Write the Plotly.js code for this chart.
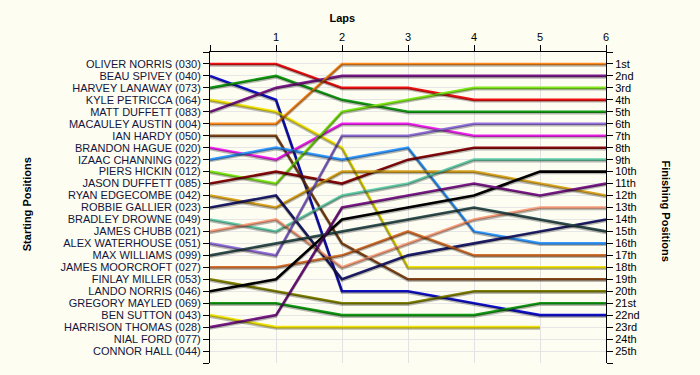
<!DOCTYPE html>
<html>
<head>
<meta charset="utf-8">
<script src="https://cdn.plot.ly/plotly-3.0.1.min.js"></script>
<style>
  html, body { margin: 0; padding: 0; background: #fdfdf2; }
  #chart { width: 700px; height: 375px; }
</style>
</head>
<body>
<div id="chart"></div>
<script>
// Starting grid labels (left axis), positions 1..25
const drivers = [
  "OLIVER NORRIS (030)", "BEAU SPIVEY (040)", "HARVEY LANAWAY (073)", "KYLE PETRICCA (064)",
  "MATT DUFFETT (083)", "MACAULEY AUSTIN (004)", "IAN HARDY (050)", "BRANDON HAGUE (020)",
  "IZAAC CHANNING (022)", "PIERS HICKIN (012)", "JASON DUFFETT (085)", "RYAN EDGECOMBE (042)",
  "ROBBIE GALLIER (023)", "BRADLEY DROWNE (049)", "JAMES CHUBB (021)", "ALEX WATERHOUSE (051)",
  "MAX WILLIAMS (099)", "JAMES MOORCROFT (027)", "FINLAY MILLER (053)", "LANDO NORRIS (046)",
  "GREGORY MAYLED (069)", "BEN SUTTON (043)", "HARRISON THOMAS (028)", "NIAL FORD (077)",
  "CONNOR HALL (044)"
];
// Finishing position labels (right axis)
const finishLabels = [
  "1st","2nd","3rd","4th","5th","6th","7th","8th","9th","10th","11th","12th","13th",
  "14th","15th","16th","17th","18th","19th","20th","21st","22nd","23rd","24th","25th"
];
const laps = [0, 1, 2, 3, 4, 5, 6];
const lapLabels = ["", "1", "2", "3", "4", "5", "6"];

// Running position of each driver (index = starting position - 1) after each lap
const lap0 = [1, 2, 3, 4, 5, 6, 7, 8, 9, 10, 11, 12, 13, 14, 15, 16, 17, 18, 19, 20, 21, 22, 23];
const lap1 = [1, 4, 2, 5, 3, 6, 7, 9, 8, 11, 10, 13, 12, 15, 14, 17, 16, 18, 20, 19, 21, 23, 22];
const lap2 = [3, 20, 4, 8, 2, 1, 16, 6, 9, 5, 11, 10, 19, 12, 18, 7, 15, 17, 21, 14, 22, 23, 13];
const lap3 = [3, 20, 5, 18, 2, 1, 19, 6, 8, 4, 9, 10, 17, 11, 16, 7, 14, 15, 21, 13, 22, 23, 12];
const lap4 = [4, 21, 5, 18, 2, 1, 19, 7, 15, 3, 8, 10, 16, 9, 14, 6, 13, 17, 20, 12, 22, 23, 11];
const lap5 = [4, 22, 5, 18, 2, 1, 19, 7, 16, 3, 8, 11, 15, 9, 13, 6, 14, 17, 20, 10, 21, 23, 12];
const lap6 = [4, 22, 5, 18, 2, 1, 19, 7, 16, 3, 8, 12, 14, 9, 13, 6, 15, 17, 20, 10, 21, null, 11];

// Line colours (style), by starting position
const lineColors = [
  "#ee1111", "#1111cc", "#139a13", "#f2e40a", "#7a1a88", "#ff8a1c", "#86481a", "#f022ee",
  "#3399ff", "#80e81a", "#8b0a0a", "#daa520", "#1f1f6e", "#66cdaa", "#f9a07e", "#9370db",
  "#2f4f4f", "#d2702e", "#808000", "#000000", "#139a13", "#f2e40a", "#7a1a88"
];

const allLaps = [lap0, lap1, lap2, lap3, lap4, lap5, lap6];
const shadows = [];
const lines = [];
for (let i = 0; i < lap0.length; i++) {
  const ys = allLaps.map(l => l[i]);
  const xs = laps.filter((_, k) => ys[k] !== null);
  const yv = ys.filter(v => v !== null);
  shadows.push({
    x: xs, y: yv, type: "scatter", mode: "lines", xaxis: "x", yaxis: "y3",
    line: { color: "rgba(0,0,0,0.28)", width: 2.6 }, hoverinfo: "skip", showlegend: false
  });
  lines.push({
    x: xs, y: yv, type: "scatter", mode: "lines", name: drivers[i],
    line: { color: lineColors[i], width: 2.6 }, showlegend: false
  });
}
// empty carrier trace so the right-hand finishing-position axis is drawn
const rightAxisCarrier = {
  x: [], y: [], type: "scatter", mode: "lines", xaxis: "x", yaxis: "y2",
  hoverinfo: "skip", showlegend: false
};

const posTicks = [];
for (let p = 0; p <= 26; p++) posTicks.push(p);
const leftText = posTicks.map(p => (p >= 1 && p <= 25) ? drivers[p - 1] : "");
const rightText = posTicks.map(p => (p >= 1 && p <= 25) ? finishLabels[p - 1] : "");

const bg = "#fdfdf2";
const tickFont = { family: "Liberation Sans, Arial, sans-serif", size: 11, color: "#000000" };

const layout = {
  width: 700, height: 375,
  paper_bgcolor: bg, plot_bgcolor: bg,
  margin: { l: 210, r: 94, t: 52, b: 12, pad: 0 },
  showlegend: false,
  title: {
    text: "<b>Laps</b>", x: 0.489, xanchor: "center", y: 0.952, yanchor: "middle",
    font: { family: "Liberation Sans, Arial, sans-serif", size: 11, color: "#000" }
  },
  xaxis: {
    side: "top", range: [0, 6], tickvals: laps, ticktext: lapLabels,
    ticks: "outside", ticklen: 6, tickcolor: "#000", showline: true, linecolor: "#000", linewidth: 1,
    showgrid: true, gridcolor: "#e2e2e2", zeroline: false, tickfont: tickFont, fixedrange: true
  },
  yaxis: {
    range: [26, 0], tickvals: posTicks, ticktext: leftText,
    ticks: "outside", ticklen: 6, tickcolor: "#000", showline: true, linecolor: "#000", linewidth: 1,
    showgrid: true, gridcolor: "#e6e6e6", zeroline: false,
    tickfont: { family: "Liberation Sans, Arial, sans-serif", size: 11, color: "#14143a" }
  },
  yaxis2: {
    overlaying: "y", side: "right", anchor: "x", range: [26, 0], tickvals: posTicks, ticktext: rightText,
    ticks: "outside", ticklen: 6, tickcolor: "#000", showline: true, linecolor: "#000", linewidth: 1,
    showgrid: false, zeroline: false, tickfont: tickFont
  },
  yaxis3: {
    overlaying: "y", anchor: "x", range: [25.88, -0.12], visible: false, showgrid: false, zeroline: false
  },
  annotations: [
    {
      text: "<b>Starting Positions</b>", xref: "paper", yref: "paper",
      x: -0.46, y: 0.51, xanchor: "center", yanchor: "middle", textangle: -90, showarrow: false,
      font: { family: "Liberation Sans, Arial, sans-serif", size: 11, color: "#000" }
    },
    {
      text: "<b>Finishing Positions</b>", xref: "paper", yref: "paper",
      x: 1.152, y: 0.49, xanchor: "center", yanchor: "middle", textangle: 90, showarrow: false,
      font: { family: "Liberation Sans, Arial, sans-serif", size: 11, color: "#000" }
    }
  ]
};

Plotly.newPlot("chart", [rightAxisCarrier].concat(shadows, lines), layout, { displayModeBar: false, staticPlot: true });
</script>
</body>
</html>
